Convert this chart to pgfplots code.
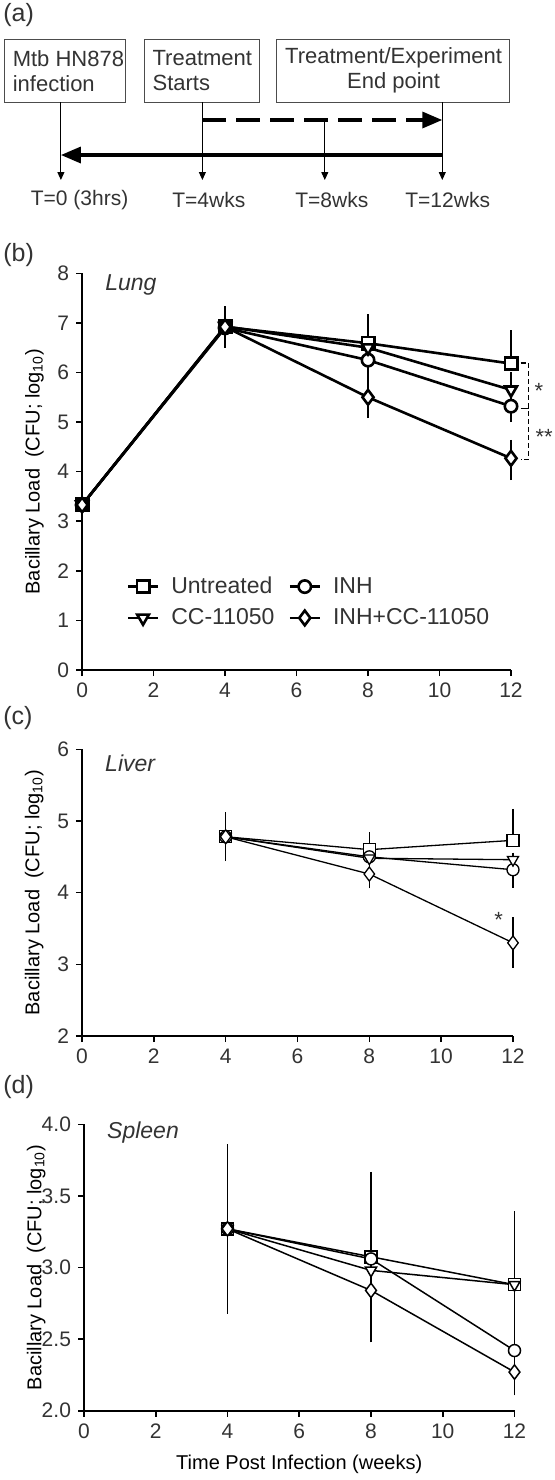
\documentclass[border=0pt]{standalone}
\usepackage{fontspec}
\setmainfont{Liberation Sans}
\usepackage{pgfplots}
\pgfplotsset{compat=1.18}
\usepackage{pgfplotstable}
\usetikzlibrary{arrows.meta}

\definecolor{txt}{gray}{0.2}

% ---------- Lung (b) ----------
\pgfplotstableread{
x y ep em
0 3.33 0.05 0.05
4 6.92 0.27 0.27
8 6.59 0.44 0.00
12 6.18 0.53 0.00
}\lungU
\pgfplotstableread{
x y ep em
0 3.33 0.05 0.05
4 6.90 0.20 0.26
8 6.25 0.20 0.22
12 5.32 0.10 0.18
}\lungI
\pgfplotstableread{
x y ep em
0 3.33 0.05 0.05
4 6.93 0.20 0.20
8 6.50 0.37 0.20
12 5.65 0.21 0.10
}\lungC
\pgfplotstableread{
x y ep em
0 3.33 0.05 0.05
4 6.92 0.20 0.20
8 5.50 0.29 0.28
12 4.27 0.23 0.30
}\lungIC

% ---------- Liver (c) ----------
\pgfplotstableread{
x y ep em
4 4.78 0.29 0.29
8 4.60 0.19 0.00
12 4.73 0.39 0.00
}\livU
\pgfplotstableread{
x y ep em
4 4.78 0.10 0.10
8 4.50 0.10 0.10
12 4.32 0.10 0.20
}\livI
\pgfplotstableread{
x y ep em
4 4.78 0.10 0.10
8 4.48 0.05 0.05
12 4.46 0.05 0.05
}\livC
\pgfplotstableread{
x y ep em
4 4.78 0.10 0.10
8 4.26 0.10 0.15
12 3.30 0.31 0.30
}\livIC

% ---------- Spleen (d) ----------
\pgfplotstableread{
x y ep em
4 3.27 0.57 0.57
8 3.075 0.57 0.10
12 2.88 0.49 0.10
}\splU
\pgfplotstableread{
x y ep em
4 3.27 0.10 0.10
8 3.06 0.19 0.10
12 2.42 0.35 0.21
}\splI
\pgfplotstableread{
x y ep em
4 3.27 0.10 0.10
8 2.98 0.05 0.05
12 2.88 0.10 0.10
}\splC
\pgfplotstableread{
x y ep em
4 3.27 0.10 0.10
8 2.84 0.10 0.34
12 2.27 0.38 0.14
}\splIC

\pgfplotsset{
  panel/.style={
    scale only axis,
    axis lines*=left,
    axis line style={-, line width=1pt, black},
    tick align=outside,
    major tick length=3pt,
    tick style={line width=0.8pt, black},
    xmin=0, xmax=12, xtick={0,2,...,12},
    ticklabel style={font=\fontsize{10.5}{12}\selectfont, text=txt},
    /pgf/number format/assume math mode=true,
    label style={font=\fontsize{11.5}{13}\selectfont, text=txt},
    clip=false,
    every axis y label/.style={at={(axis description cs:-0.111,0.5)}, rotate=90, anchor=center},
    ylabel={Bacillary Load\ \ (CFU; log\textsubscript{10})},
    legend image code/.code={
      \draw[mark repeat=2,mark phase=2,#1] plot coordinates {(0pt,0pt) (7.5pt,0pt) (15pt,0pt)};
      \path (19pt,0pt);
    },
  },
  sU/.style={black, mark=square*, mark options={solid, fill=white}},
  sI/.style={black, mark=*, mark options={solid, fill=white}},
  sC/.style={black, mark=triangle*, mark options={solid, fill=white, rotate=180}},
  sIC/.style={black, mark=diamond*, mark options={solid, fill=white}},
}

\begin{document}
\begin{tikzpicture}
\useasboundingbox (0,0) rectangle (277.5pt,-740pt);

% ---------- (a) timeline schematic ----------
\node[anchor=west, text=txt, font=\fontsize{12.5}{14}\selectfont, inner sep=0pt] at (1.5pt,-7.5pt) {(a)};
\begin{scope}[font=\fontsize{11}{12.5}\selectfont]
\draw[black!70, line width=0.5pt] (2.1pt,-19.65pt) rectangle (62.8pt,-51.15pt);
\draw[black!70, line width=0.5pt] (72.2pt,-19.65pt) rectangle (129.7pt,-51.15pt);
\draw[black!70, line width=0.5pt] (138pt,-19.65pt) rectangle (254.8pt,-51.15pt);
\node[anchor=west, align=left, text=txt, inner sep=0pt] at (6.2pt,-35.4pt) {Mtb HN878\\infection};
\node[anchor=west, align=left, text=txt, inner sep=0pt] at (76.1pt,-35.4pt) {Treatment\\Starts};
\node[align=center, text=txt, inner sep=0pt] at (196.8pt,-35.4pt) {Treatment/Experiment\\End point};
\end{scope}
\draw[line width=0.5pt, -{Triangle[length=4pt,width=3.5pt]}] (30.45pt,-51.15pt) -- (30.45pt,-90pt);
\draw[line width=0.5pt, -{Triangle[length=4pt,width=3.5pt]}] (101.2pt,-51.15pt) -- (101.2pt,-90pt);
\draw[line width=0.5pt, -{Triangle[length=4pt,width=3.5pt]}] (162.4pt,-60pt) -- (162.4pt,-90pt);
\draw[line width=0.5pt, -{Triangle[length=4pt,width=3.5pt]}] (221.15pt,-51.15pt) -- (221.15pt,-90pt);
\draw[line width=1.7pt, dash pattern=on 12pt off 5pt, -{Triangle[length=10pt,width=8pt]}] (101.2pt,-60pt) -- (221.15pt,-60pt);
\draw[line width=1.7pt, -{Triangle[length=10pt,width=8pt]}] (221.15pt,-77.5pt) -- (30.45pt,-77.5pt);
\begin{scope}[font=\fontsize{10.5}{12}\selectfont]
\node[text=txt] at (39.8pt,-100pt) {T=0 (3hrs)};
\node[text=txt] at (104.4pt,-100pt) {T=4wks};
\node[text=txt] at (165.9pt,-100pt) {T=8wks};
\node[text=txt] at (223.85pt,-100pt) {T=12wks};
\end{scope}

% ---------- panel labels ----------
\node[anchor=west, text=txt, font=\fontsize{12.5}{14}\selectfont, inner sep=0pt] at (1.5pt,-127.5pt) {(b)};
\node[anchor=west, text=txt, font=\fontsize{12.5}{14}\selectfont, inner sep=0pt] at (1.5pt,-359pt) {(c)};
\node[anchor=west, text=txt, font=\fontsize{12.5}{14}\selectfont, inner sep=0pt] at (1.5pt,-543.5pt) {(d)};

% ---------- (b) Lung ----------
\begin{axis}[panel, at={(41.05pt,-335pt)}, anchor=south west,
  width=214.45pt, height=198.35pt,
  ymin=0, ymax=8, ytick={0,...,8},
  legend columns=2, legend cell align=left,
  legend style={at={(axis cs:1.07,2.05)}, anchor=north west, draw=none, fill=none,
    font=\fontsize{11.5}{13}\selectfont, text=txt, row sep=2pt,
    /tikz/every even column/.append style={column sep=5pt}},
  every axis plot/.append style={line width=1.3pt},
]
\addplot[sU, mark size=3.1pt, error bars/.cd, y dir=both, y explicit, error bar style={line width=1.3pt}, error mark options={mark size=3.5pt, line width=1.3pt}]
  table[x=x, y=y, y error plus=ep, y error minus=em]{\lungU};
\addlegendentry{Untreated}
\addplot[sI, mark size=3.1pt, error bars/.cd, y dir=both, y explicit, error bar style={line width=1.3pt}, error mark options={mark size=3.5pt, line width=1.3pt}]
  table[x=x, y=y, y error plus=ep, y error minus=em]{\lungI};
\addlegendentry{INH}
\addplot[sC, mark size=3.4pt, error bars/.cd, y dir=both, y explicit, error bar style={line width=1.3pt}, error mark options={mark size=3.5pt, line width=1.3pt}]
  table[x=x, y=y, y error plus=ep, y error minus=em]{\lungC};
\addlegendentry{CC-11050}
\addplot[sIC, mark size=3.7pt, error bars/.cd, y dir=both, y explicit, error bar style={line width=1.3pt}, error mark options={mark size=3.5pt, line width=1.3pt}]
  table[x=x, y=y, y error plus=ep, y error minus=em]{\lungIC};
\addlegendentry{INH+CC-11050}
\node[anchor=west, text=txt, font=\fontsize{11.5}{13}\itshape] at (axis cs:0.45,7.76) {Lung};
\draw[dash pattern=on 2.5pt off 1.5pt, line width=0.6pt] (axis cs:12.27,6.19) -- (axis cs:12.49,6.19) -- (axis cs:12.49,4.24) -- (axis cs:12.27,4.24);
\draw[line width=0.6pt] (axis cs:12.27,5.27) -- (axis cs:12.49,5.27);
\node[text=txt, font=\fontsize{11}{13}\selectfont] at (axis cs:12.78,5.62) {*};
\node[text=txt, font=\fontsize{11}{13}\selectfont] at (axis cs:12.93,4.70) {**};
\end{axis}

% ---------- (c) Liver ----------
\begin{axis}[panel, at={(41pt,-518pt)}, anchor=south west,
  width=215.5pt, height=143.35pt,
  ymin=2, ymax=6, ytick={2,...,6},
  every axis plot/.append style={line width=0.65pt},
]
\addplot[sU, mark size=3pt, error bars/.cd, y dir=both, y explicit, error bar style={line width=0.65pt}, error mark options={mark size=1.8pt, line width=0.65pt}]
  table[x=x, y=y, y error plus=ep, y error minus=em]{\livU};
\addplot[sI, mark size=3pt, error bars/.cd, y dir=both, y explicit, error bar style={line width=0.65pt}, error mark options={mark size=1.8pt, line width=0.65pt}]
  table[x=x, y=y, y error plus=ep, y error minus=em]{\livI};
\addplot[sC, mark size=3.2pt, error bars/.cd, y dir=both, y explicit, error bar style={line width=0.65pt}, error mark options={mark size=1.8pt, line width=0.65pt}]
  table[x=x, y=y, y error plus=ep, y error minus=em]{\livC};
\addplot[sIC, mark size=3.5pt, error bars/.cd, y dir=both, y explicit, error bar style={line width=0.65pt}, error mark options={mark size=1.8pt, line width=0.65pt}]
  table[x=x, y=y, y error plus=ep, y error minus=em]{\livIC};
\node[anchor=west, text=txt, font=\fontsize{11.5}{13}\itshape] at (axis cs:0.45,5.81) {Liver};
\node[text=txt, font=\fontsize{11}{13}\selectfont] at (axis cs:11.6,3.62) {*};
\end{axis}

% ---------- (d) Spleen ----------
\begin{axis}[panel, at={(42pt,-705.35pt)}, anchor=south west,
  width=215.25pt, height=143.2pt,
  ymin=2, ymax=4, ytick={2,2.5,...,4},
  yticklabel style={/pgf/number format/.cd, fixed, fixed zerofill, precision=1},
  xlabel={Time Post Infection (weeks)},
  every axis x label/.style={at={(axis description cs:0.5,0)}, yshift=-27pt, anchor=center},
  every axis plot/.append style={line width=0.75pt},
]
\addplot[sU, mark size=3pt, error bars/.cd, y dir=both, y explicit, error bar style={line width=0.75pt}, error mark options={mark size=1.6pt, line width=0.75pt}]
  table[x=x, y=y, y error plus=ep, y error minus=em]{\splU};
\addplot[sI, mark size=3pt, error bars/.cd, y dir=both, y explicit, error bar style={line width=0.75pt}, error mark options={mark size=1.6pt, line width=0.75pt}]
  table[x=x, y=y, y error plus=ep, y error minus=em]{\splI};
\addplot[sC, mark size=3.2pt, error bars/.cd, y dir=both, y explicit, error bar style={line width=0.75pt}, error mark options={mark size=1.6pt, line width=0.75pt}]
  table[x=x, y=y, y error plus=ep, y error minus=em]{\splC};
\addplot[sIC, mark size=3.6pt, error bars/.cd, y dir=both, y explicit, error bar style={line width=0.75pt}, error mark options={mark size=1.6pt, line width=0.75pt}]
  table[x=x, y=y, y error plus=ep, y error minus=em]{\splIC};
\node[anchor=west, text=txt, font=\fontsize{11.5}{13}\itshape] at (axis cs:0.45,3.94) {Spleen};
\end{axis}
\end{tikzpicture}
\end{document}
